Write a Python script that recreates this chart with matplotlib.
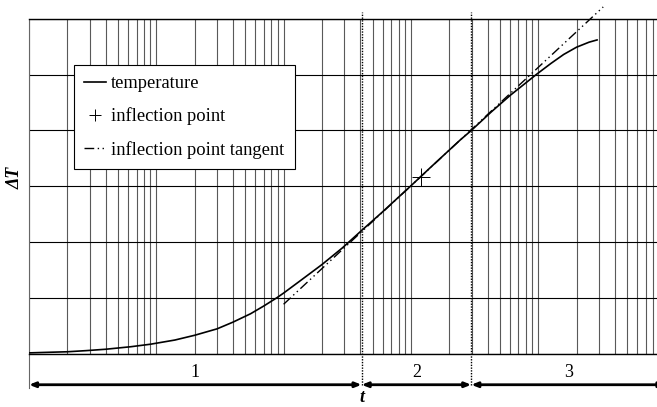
import matplotlib
matplotlib.use('Agg')
from matplotlib import pyplot as plt
import numpy as np

# temperature rise (log time axis)
time = [1, 1.4, 2, 2.8, 4, 6.3, 9, 14, 20, 30, 40, 55, 70, 89, 100, 135, 200, 290,
        410, 590, 990, 1420, 2440, 2980, 4270, 6040, 9770, 12600, 15850, 20000,
        25100, 29000]
delta_T = [0.02, 0.03, 0.04, 0.06, 0.085, 0.13, 0.175, 0.25, 0.335, 0.45, 0.57, 0.72,
           0.86, 1.01, 1.09, 1.31, 1.6, 1.9, 2.21, 2.53, 3.0, 3.335, 3.83, 4.0, 4.33,
           4.63, 5.01, 5.2, 5.36, 5.49, 5.58, 5.62]

inflection_t = [1190]
inflection_dT = [3.17]

tangent_t = [100, 32400]
tangent_dT = [0.89, 6.21]

phase_edges = [1, 410, 2980, 1e5]
phase_labels = ['1', '2', '3']

plt.rcParams['font.family'] = ['Liberation Serif', 'DejaVu Serif']

fig = plt.figure(figsize=(6.57, 4.07), dpi=100)
ax = fig.add_axes([29 / 657, 53 / 407, 636.5 / 657, 335.3 / 407])

ax.set_xscale('log')
ax.set_xlim(phase_edges[0], phase_edges[-1])
ax.set_ylim(0, 6)
ax.set_yticks(np.arange(0, 7, 1))

ax.grid(True, which='major', axis='y', color='k', lw=0.8)
ax.grid(True, which='both', axis='x', color='0.35', lw=0.8)
ax.tick_params(which='both', length=0, labelbottom=False, labelleft=False)
for side in ['top', 'bottom']:
    ax.spines[side].set_linewidth(1.0)
ax.spines['left'].set_color('0.4')
ax.spines['left'].set_linewidth(0.8)

ax.plot(time, delta_T, color='k', lw=1.2, label='temperature', zorder=3)
ax.plot(inflection_t, inflection_dT, linestyle='none', marker='+', markersize=13,
        markeredgewidth=0.7, color='k', label='inflection point', zorder=4)
ax.plot(tangent_t, tangent_dT, color='k', lw=1.0, dashes=(7, 2.5, 1, 2.5, 1, 2.5),
        label='inflection point tangent', clip_on=False, zorder=3)

# phase boundaries
for b in phase_edges[1:-1]:
    ax.plot([b, b], [-0.56, 6.12], color='k', lw=1.0, linestyle=(0, (1, 1)),
            clip_on=False, zorder=5)
ax.plot([phase_edges[0]] * 2, [0, -0.6], color='0.4', lw=0.8, clip_on=False)

for i, lab in enumerate(phase_labels):
    x0, x1 = phase_edges[i], phase_edges[i + 1]
    ax.annotate('', xy=(x1, -0.55), xytext=(x0, -0.55), annotation_clip=False,
                arrowprops=dict(arrowstyle='<|-|>,head_length=0.45,head_width=0.18',
                                lw=2, color='k', shrinkA=0, shrinkB=0,
                                mutation_scale=8))
    ax.text(np.sqrt(x0 * x1), -0.33, lab, ha='center', va='center', fontsize=13)

ax.text(phase_edges[1], -0.78, 't', ha='center', va='center', fontsize=13,
        fontstyle='italic', fontweight='bold')
fig.text(15 / 657, 1 - 178 / 407, '\u0394T', rotation=90, ha='center', va='center',
         fontsize=13, fontstyle='italic', fontweight='bold')

leg = ax.legend(loc='upper left', bbox_to_anchor=(74.3 / 657, 1 - 65 / 407),
                bbox_transform=fig.transFigure, borderaxespad=0, fontsize=13.3,
                frameon=True, fancybox=False, framealpha=1, edgecolor='k',
                handlelength=1.15, handletextpad=0.3, borderpad=0.55,
                labelspacing=0.83, markerscale=0.7)
leg.get_frame().set_linewidth(0.8)
leg.set_zorder(6)

fig.savefig('out.png', dpi=100)
